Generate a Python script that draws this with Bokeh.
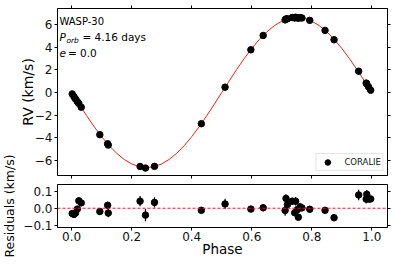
import numpy as np
from bokeh.plotting import figure
from bokeh.layouts import row, column
from bokeh.models import (Range1d, Label, FixedTicker, CustomJSTickFormatter,
                          Legend, LegendItem, Span, ColumnDataSource, LinearAxis)
from bokeh.embed import file_html
from bokeh.resources import INLINE

# ---------------- data ----------------
phase = [0.002, 0.008, 0.013, 0.019, 0.024, 0.032, 0.094, 0.120, 0.122,
         0.228, 0.246, 0.276, 0.432, 0.511, 0.597, 0.638, 0.711, 0.714,
         0.719, 0.735, 0.743, 0.746, 0.752, 0.755, 0.761, 0.767, 0.793,
         0.844, 0.874, 0.956, 0.981, 0.983, 0.989, 0.996]
rv = [-0.12, -0.37, -0.57, -0.80, -0.96, -1.30, -3.73, -4.54, -4.65,
      -6.55, -6.69, -6.54, -2.76, 0.48, 3.79, 5.06, 6.44, 6.53,
      6.54, 6.65, 6.61, 6.68, 6.64, 6.59, 6.64, 6.61, 6.40,
      5.51, 4.68, 1.89, 0.84, 0.78, 0.50, 0.21]
resid = [-0.031, -0.036, -0.028, -0.005, 0.043, 0.031, -0.019, 0.017, -0.028,
         0.041, -0.040, 0.034, -0.012, 0.025, -0.005, 0.003, -0.013, 0.057,
         0.022, 0.041, -0.026, 0.041, -0.008, -0.052, 0.008, 0.002, -0.006,
         -0.012, -0.055, 0.077, 0.053, 0.081, 0.053, 0.054]
err = [0.015, 0.015, 0.015, 0.015, 0.020, 0.015, 0.015, 0.020, 0.025,
       0.030, 0.035, 0.030, 0.015, 0.030, 0.015, 0.020, 0.030, 0.025,
       0.020, 0.020, 0.020, 0.025, 0.020, 0.020, 0.020, 0.015, 0.015,
       0.015, 0.020, 0.030, 0.025, 0.025, 0.015, 0.015]

model_phase = [0.000, 0.025, 0.050, 0.075, 0.100, 0.125, 0.150, 0.175, 0.200,
               0.225, 0.250, 0.275, 0.300, 0.325, 0.350, 0.375, 0.400, 0.425,
               0.450, 0.475, 0.500, 0.525, 0.550, 0.575, 0.600, 0.625, 0.650,
               0.675, 0.700, 0.725, 0.750, 0.775, 0.800, 0.825, 0.850, 0.875,
               0.900, 0.925, 0.950, 0.975, 1.000]
model_rv = [0.0, -1.04, -2.055, -3.019, -3.909, -4.702, -5.38, -5.925, -6.325,
            -6.568, -6.65, -6.568, -6.325, -5.925, -5.38, -4.702, -3.909, -3.019,
            -2.055, -1.04, 0.0, 1.04, 2.055, 3.019, 3.909, 4.702, 5.38,
            5.925, 6.325, 6.568, 6.65, 6.568, 6.325, 5.925, 5.38, 4.702,
            3.909, 3.019, 2.055, 1.04, 0.0]

phase_ticks = [0.0, 0.2, 0.4, 0.6, 0.8, 1.0]
rv_ticks = [-6, -4, -2, 0, 2, 4, 6]
res_ticks = [-0.1, 0.0, 0.1]

star = "WASP-30"
period_text = "= 4.16 days"
ecc_text = "= 0.0"
instrument = "CORALIE"
rv_label = "RV (km/s)"
res_label = "Residuals (km/s)"
x_label = "Phase"
# -----------------------------------------------------------------

FONT = "DejaVu Sans"
TICK_FS = "12px"
LAB_W = 16
COL_W = 395 - LAB_W
BORDER_L = 55 - LAB_W

src = ColumnDataSource(dict(
    phase=phase, rv=rv, resid=resid,
    rv_lo=[a - e for a, e in zip(rv, err)], rv_hi=[a + e for a, e in zip(rv, err)],
    r_lo=[a - e for a, e in zip(resid, err)], r_hi=[a + e for a, e in zip(resid, err)],
))

EMPTY = "return ''"
MINUS1 = "return tick.toFixed(1).replace('-', '\\u2212')"
MINUS0 = "return tick.toFixed(0).replace('-', '\\u2212')"


def style_axis(ax):
    ax.axis_line_color = "black"
    ax.major_tick_line_color = "black"
    ax.major_tick_in = 0
    ax.major_tick_out = 3
    ax.minor_tick_in = 0
    ax.minor_tick_out = 0
    ax.major_label_standoff = 2
    ax.major_label_text_font = FONT
    ax.major_label_text_font_size = TICK_FS
    ax.major_label_text_color = "#111111"
    ax.axis_label_text_font = FONT
    ax.axis_label_text_font_style = "normal"
    ax.axis_label_text_color = "black"


def style(p):
    p.grid.visible = False
    p.outline_line_color = "black"
    p.outline_line_width = 1
    p.background_fill_color = "white"
    p.border_fill_color = "white"
    for ax in p.axis:
        style_axis(ax)


def blank_axis(ticks):
    ax = LinearAxis(ticker=FixedTicker(ticks=ticks),
                    formatter=CustomJSTickFormatter(code=EMPTY))
    style_axis(ax)
    ax.major_label_standoff = 0
    ax.major_label_text_font_size = "0px"
    return ax


xr = Range1d(-0.047, 1.052)

# ---------------- top panel ----------------
p1 = figure(width=COL_W, height=184, x_range=xr, y_range=Range1d(-7.35, 7.45),
            output_backend="svg", toolbar_location=None,
            min_border_left=BORDER_L, min_border_right=8,
            min_border_top=8, min_border_bottom=9)
style(p1)
p1.xaxis.ticker = FixedTicker(ticks=phase_ticks)
p1.xaxis.formatter = CustomJSTickFormatter(code=EMPTY)
p1.xaxis.major_label_standoff = 0
p1.xaxis.major_label_text_font_size = "0px"
p1.yaxis.ticker = FixedTicker(ticks=rv_ticks)
p1.yaxis.formatter = CustomJSTickFormatter(code=MINUS0)
p1.yaxis.axis_label = rv_label
p1.yaxis.axis_label_text_font_size = "14px"
p1.yaxis.axis_label_standoff = -4
p1.add_layout(blank_axis(phase_ticks), "above")
p1.add_layout(blank_axis(rv_ticks), "right")

p1.line(model_phase, model_rv, line_color="#e3241b", line_width=1)
p1.segment(x0="phase", x1="phase", y0="rv_lo", y1="rv_hi", source=src,
           line_color="black", line_width=1.2)
sc1 = p1.scatter(x="phase", y="rv", source=src, size=6.5, marker="circle",
                 fill_color="black", line_color="black")

legend = Legend(items=[LegendItem(label=instrument, renderers=[sc1])],
                location="bottom_right")
legend.label_text_font = FONT
legend.label_text_font_size = "8.5px"
legend.label_text_color = "#111111"
legend.border_line_color = "#cccccc"
legend.border_line_width = 1
legend.background_fill_alpha = 0.8
legend.margin = 4
legend.padding = 1
legend.glyph_height = 14
legend.glyph_width = 20
legend.label_height = 10
legend.label_standoff = 7
legend.spacing = 0
p1.add_layout(legend)

# annotation block (top-left)
ann = dict(text_font=FONT, text_font_size="10.5px", text_color="black",
           text_baseline="alphabetic")
AX = -0.0407
p1.add_layout(Label(x=AX, y=6.3, text=star, text_font=FONT, text_font_size="10px",
                    text_color="black", text_baseline="alphabetic"))
p1.add_layout(Label(x=AX, y=4.88, text="P", text_font_style="italic", **ann))
p1.add_layout(Label(x=AX, y=4.88, x_offset=7, y_offset=-3, text="orb",
                    text_font=FONT, text_font_size="7.5px", text_font_style="italic",
                    text_baseline="alphabetic", text_color="black"))
p1.add_layout(Label(x=AX, y=4.88, x_offset=23, text=period_text, **ann))
p1.add_layout(Label(x=AX, y=3.47, text="e", text_font_style="italic", **ann))
p1.add_layout(Label(x=AX, y=3.47, x_offset=8.5, text=ecc_text, **ann))

# ---------------- residual panel ----------------
p2 = figure(width=COL_W, height=80, x_range=xr, y_range=Range1d(-0.112, 0.138),
            output_backend="svg", toolbar_location=None,
            min_border_left=BORDER_L, min_border_right=8,
            min_border_top=0, min_border_bottom=37)
style(p2)
p2.xaxis.ticker = FixedTicker(ticks=phase_ticks)
p2.xaxis.formatter = CustomJSTickFormatter(code="return tick.toFixed(1)")
p2.xaxis.major_label_standoff = 1
p2.xaxis.axis_label = x_label
p2.xaxis.axis_label_text_font_size = "13.5px"
p2.xaxis.axis_label_standoff = -3
p2.yaxis.ticker = FixedTicker(ticks=res_ticks)
p2.yaxis.formatter = CustomJSTickFormatter(code=MINUS1)
p2.add_layout(blank_axis(res_ticks), "right")

p2.add_layout(Span(location=0, dimension="width", line_color="#d42035",
                   line_dash="3 2", line_width=1))
p2.segment(x0="phase", x1="phase", y0="r_lo", y1="r_hi", source=src,
           line_color="black", line_width=1.2)
p2.scatter(x="phase", y="resid", source=src, size=6.5, marker="circle",
           fill_color="black", line_color="black")

# ---------------- y-label strip for the residual panel ----------------
lab = figure(width=LAB_W, height=264, x_range=Range1d(0, LAB_W), y_range=Range1d(264, 0),
             output_backend="svg", toolbar_location=None,
             x_axis_location=None, y_axis_location=None,
             min_border=0, min_border_left=0, min_border_right=0,
             min_border_top=0, min_border_bottom=0)
lab.grid.visible = False
lab.outline_line_color = None
lab.add_layout(Label(x=9, y=205.5, text=res_label, angle=np.pi / 2,
                     text_align="center", text_baseline="middle",
                     text_font=FONT, text_font_size="12.5px", text_color="black"))

layout = row(lab, column(p1, p2))
open("out.html", "w").write(file_html(layout, INLINE))
